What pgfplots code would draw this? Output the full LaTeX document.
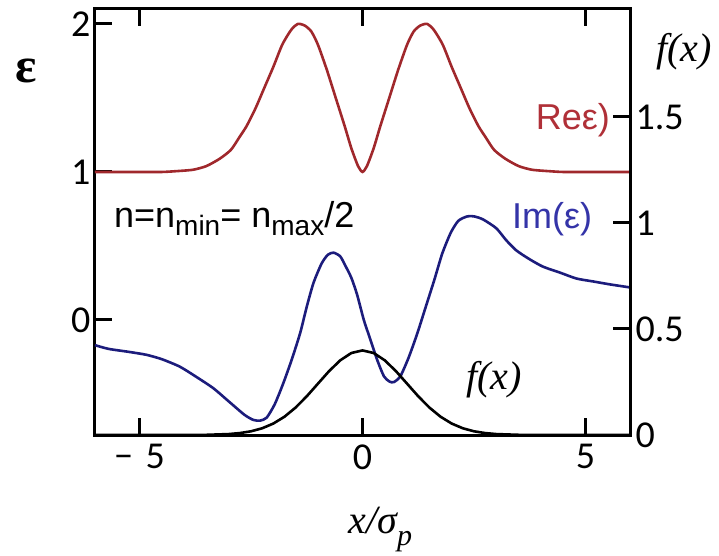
\documentclass[border=0pt]{standalone}
\usepackage{pgfplots}
\pgfplotsset{compat=1.18}
\usepackage{fontspec}
\setmainfont{Liberation Serif}
\newfontfamily\arial{Liberation Sans}
\newfontfamily\tickfont{Carlito}
\definecolor{reCol}{HTML}{A0282C}
\definecolor{imCol}{HTML}{1C1C7C}
\definecolor{reTxt}{HTML}{B03038}
\definecolor{imTxt}{HTML}{3434A8}

\pgfplotsset{
  common/.style={
    width=535pt, height=426pt, scale only axis,
    xmin=-6, xmax=6, clip=false,
    axis line style={line width=3pt},
    tick align=inside, major tick length=17pt,
    tick style={line width=3pt, black},
    tick label style={font=\tickfont\fontsize{38}{38}\selectfont},
    /pgf/number format/assume math mode=true,
  },
}

\begin{document}
\begin{tikzpicture}
\begin{axis}[common,
    ymin=-0.777, ymax=2.101,
    xtick={-5,0,5}, xticklabels={{−\,\,5},0,5},
    xtick pos=both,
    ytick={0,1,2}, yticklabels={0,1,2},
    ytick pos=left,
    xticklabel style={yshift=-6pt},
    yticklabel style={xshift=-1pt},
]
\coordinate (bl) at (rel axis cs:0,0);
% Re eps
\addplot[reCol, line width=2.6pt, smooth, tension=0.4] coordinates {
(-6,1.00) (-5,1.00) (-4.5,1.00) (-4.2,1.005) (-3.8,1.015) (-3.5,1.04) (-3.2,1.09)
(-2.95,1.15) (-2.75,1.24) (-2.6,1.31) (-2.4,1.43) (-2.2,1.57) (-2.0,1.71) (-1.8,1.86)
(-1.6,1.96) (-1.45,2.00) (-1.3,1.99) (-1.15,1.95) (-1.0,1.86) (-0.8,1.69) (-0.6,1.50)
(-0.4,1.31) (-0.25,1.16) (-0.1,1.04) (0,1.00)
(0.1,1.04) (0.25,1.16) (0.4,1.31) (0.6,1.50) (0.8,1.69) (1.0,1.86) (1.15,1.95)
(1.3,1.99) (1.45,2.00) (1.6,1.96) (1.8,1.86) (2.0,1.71) (2.2,1.57) (2.4,1.43)
(2.6,1.31) (2.75,1.24) (2.95,1.15) (3.2,1.09) (3.5,1.04) (3.8,1.015) (4.2,1.005)
(4.5,1.00) (5,1.00) (6,1.00)
};
% Im eps
\addplot[imCol, line width=2.6pt, smooth, tension=0.4] coordinates {
(-6,-0.17) (-5.7,-0.195) (-5.25,-0.215) (-4.85,-0.235) (-4.5,-0.265) (-4.1,-0.315)
(-3.75,-0.38) (-3.35,-0.46) (-3.0,-0.55) (-2.65,-0.64) (-2.45,-0.675) (-2.3,-0.68)
(-2.15,-0.66) (-1.97,-0.57) (-1.78,-0.43) (-1.59,-0.27) (-1.40,-0.09) (-1.25,0.09)
(-1.10,0.25) (-0.92,0.38) (-0.78,0.44) (-0.65,0.455) (-0.5,0.43) (-0.39,0.37)
(-0.25,0.285) (-0.12,0.17) (0.03,0.00) (0.18,-0.135) (0.33,-0.27) (0.48,-0.38)
(0.60,-0.415) (0.70,-0.42) (0.85,-0.38) (1.04,-0.25) (1.23,-0.09) (1.42,0.09)
(1.61,0.27) (1.79,0.45) (1.98,0.59) (2.15,0.67) (2.35,0.70) (2.5,0.70) (2.7,0.68)
(3.0,0.62) (3.22,0.54) (3.45,0.47) (3.75,0.41) (4.05,0.36) (4.43,0.32) (4.8,0.28)
(5.18,0.26) (5.56,0.24) (6.0,0.22)
};
\node[anchor=base west, font=\arial\fontsize{36}{36}\selectfont]
  at (axis cs:-5.65,0.628)
  {n=n\raisebox{-8pt}{\fontsize{28}{28}\selectfont min}= n\raisebox{-8pt}{\fontsize{28}{28}\selectfont max}/2};
\node[anchor=base east, text=reTxt, font=\arial\fontsize{36}{36}\selectfont]
  at (axis cs:5.63,1.284) {Reε)};
\node[anchor=base east, text=imTxt, font=\arial\fontsize{36}{36}\selectfont]
  at (axis cs:5.23,0.62) {Im(ε)};
\node[font=\bfseries\fontsize{50}{50}\selectfont] at (axis cs:-7.55,1.68) {ε};
\node[anchor=base, font=\itshape\fontsize{40}{40}\selectfont]
  at (axis cs:0.40,-1.445) {x/σ\raisebox{-12pt}{\fontsize{30}{30}\selectfont p}};
\end{axis}
\begin{axis}[common,
    ymin=0, ymax=2.009,
    axis x line=none, axis y line*=right,
    ytick={0,0.5,1,1.5}, yticklabels={0,0.5,1,1.5},
    ytick pos=right,
    yticklabel style={xshift=2pt},
]
\addplot[black, line width=2.6pt] coordinates {
(-6,0) (-4,0.0001) (-3.5,0.0009) (-3,0.0044) (-2.75,0.0091) (-2.5,0.0175)
(-2.25,0.0317) (-2,0.054) (-1.75,0.0863) (-1.5,0.1295) (-1.25,0.1826) (-1,0.242)
(-0.75,0.3011) (-0.5,0.3521) (-0.25,0.3867) (0,0.3989) (0.25,0.3867) (0.5,0.3521)
(0.75,0.3011) (1,0.242) (1.25,0.1826) (1.5,0.1295) (1.75,0.0863) (2,0.054)
(2.25,0.0317) (2.5,0.0175) (2.75,0.0091) (3,0.0044) (3.5,0.0009) (4,0.0001) (6,0)
};
\node[font=\itshape\fontsize{40}{40}\selectfont] at (axis cs:2.95,0.26) {f(x)};
\node[font=\itshape\fontsize{40}{40}\selectfont] at (axis cs:7.21,1.81) {f(x)};
\end{axis}
\useasboundingbox (bl) ++(-95pt,-118pt) rectangle ++(719pt,553pt);
\end{tikzpicture}
\end{document}
